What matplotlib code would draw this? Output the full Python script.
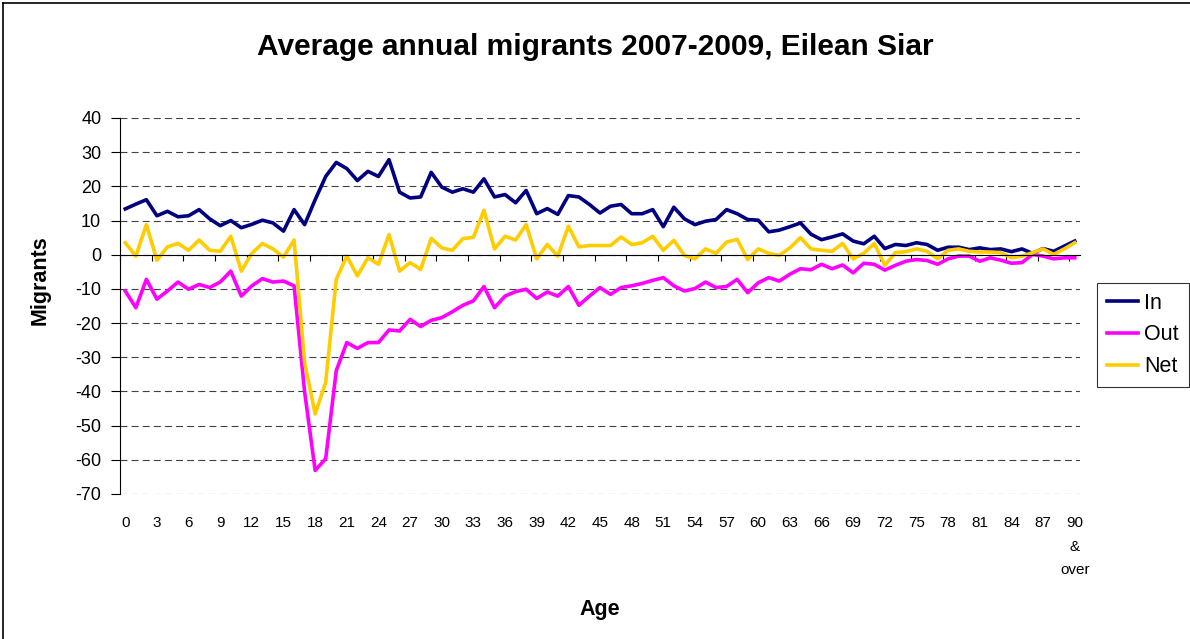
import numpy as np
import matplotlib
matplotlib.use("Agg")
import matplotlib.pyplot as plt
from matplotlib.lines import Line2D

plt.rcParams['font.family'] = ['Liberation Sans', 'DejaVu Sans']
plt.rcParams['lines.scale_dashes'] = False
plt.rcParams['axes.unicode_minus'] = False

ages = list(range(91))
age_labels = [str(a) for a in range(0, 90, 3)] + ["90\n&\nover"]

in_mig = [13.4, 14.8, 16.1, 11.4, 12.7, 11.1, 11.4, 13.2, 10.5, 8.5,
          10.0, 7.9, 8.9, 10.1, 9.3, 6.9, 13.2, 8.8, 16.1, 22.9,
          27.0, 25.2, 21.7, 24.4, 22.9, 27.8, 18.3, 16.6, 16.9, 24.1,
          19.8, 18.3, 19.3, 18.3, 22.2, 16.9, 17.6, 15.2, 18.8, 12.0,
          13.5, 11.8, 17.3, 16.9, 14.7, 12.2, 14.2, 14.7, 12.0, 12.0,
          13.2, 8.2, 13.9, 10.5, 8.8, 9.8, 10.3, 13.2, 12.0, 10.3,
          10.1, 6.7, 7.2, 8.2, 9.3, 6.0, 4.4, 5.2, 6.1, 4.0,
          3.2, 5.4, 1.8, 3.0, 2.7, 3.5, 3.0, 1.3, 2.2, 2.2,
          1.5, 2.0, 1.5, 1.7, 0.9, 1.7, 0.4, 1.8, 1.0, 2.5, 4.0]

out_mig = [-10.6, -15.5, -7.2, -13.0, -10.6, -8.0, -10.1, -8.7, -9.6, -8.0,
           -4.8, -12.1, -9.1, -7.0, -8.0, -7.7, -9.1, -40.1, -63.1, -59.7,
           -33.9, -25.7, -27.4, -25.7, -25.7, -22.0, -22.3, -18.9, -21.0, -19.2,
           -18.4, -16.7, -14.8, -13.5, -9.3, -15.5, -12.1, -10.8, -10.1, -12.8,
           -10.9, -12.1, -9.3, -14.8, -12.1, -9.6, -11.6, -9.6, -9.1, -8.4,
           -7.5, -6.7, -9.1, -10.6, -9.9, -8.0, -9.6, -9.3, -7.2, -11.1,
           -8.2, -6.7, -7.7, -5.7, -4.1, -4.4, -2.8, -4.1, -3.0, -5.3,
           -2.5, -2.8, -4.5, -3.1, -1.9, -1.4, -1.7, -2.8, -1.2, -0.4,
           -0.4, -1.9, -0.9, -1.6, -2.5, -2.3, 0.1, -0.4, -1.2, -0.9, -0.9]

net_mig = [3.5, -0.4, 8.8, -1.6, 2.3, 3.3, 1.3, 4.3, 1.3, 1.0,
           5.4, -4.8, 0.4, 3.3, 1.7, -0.7, 4.3, -31.5, -46.6, -37.3,
           -7.2, -0.4, -6.2, -0.9, -2.8, 5.9, -4.8, -2.3, -4.3, 4.8,
           2.0, 1.3, 4.7, 5.1, 13.0, 1.7, 5.4, 4.3, 8.8, -1.2,
           3.0, -0.4, 8.3, 2.3, 2.7, 2.7, 2.7, 5.2, 3.0, 3.5,
           5.4, 1.3, 4.2, -0.2, -1.2, 1.7, 0.4, 3.7, 4.5, -1.4,
           1.7, 0.4, -0.2, 2.0, 5.0, 1.7, 1.3, 1.0, 3.3, -1.2,
           0.4, 3.3, -3.1, 0.6, 0.9, 1.7, 1.0, -1.2, 1.3, 1.7,
           1.0, 0.8, 0.8, 0.6, -0.9, -0.4, 0.6, 1.7, 0.1, 1.7, 3.5]

fig = plt.figure(figsize=(11.9, 6.39), dpi=100)
ax = fig.add_axes([120 / 1190, 1 - 494 / 639, 960 / 1190, 376 / 639])

ax.plot(ages, in_mig, color="#000080", lw=2.6, label="In")
ax.plot(ages, out_mig, color="#FF00FF", lw=2.6, label="Out")
ax.plot(ages, net_mig, color="#FFCC00", lw=2.6, label="Net")

ax.set_xlim(-0.5, 90.5)
ax.set_ylim(-70, 40)
ax.set_yticks(np.arange(-70, 41, 10))
ax.yaxis.grid(True, linestyle=(0, (5, 3)), color="#404040", lw=0.8)
ax.set_axisbelow(True)
ax.tick_params(axis="y", labelsize=13, length=6.5, width=0.8, pad=7, direction="out")

for s in ["top", "right"]:
    ax.spines[s].set_visible(False)
ax.spines["left"].set_linewidth(0.8)
ax.spines["bottom"].set_position(("data", 0))
ax.spines["bottom"].set_linewidth(0.8)

# ticks between categories on the zero axis, labels at the bottom
ax.set_xticks(np.arange(-0.5, 91, 3))
ax.set_xticklabels([])
ax.tick_params(axis="x", direction="out", length=4.5, width=0.8)

sec = ax.secondary_xaxis("bottom")
sec.set_xticks(ages[::3], age_labels)
sec.tick_params(length=0, pad=16, labelsize=11)
sec.spines["bottom"].set_visible(False)
for t in sec.get_xticklabels():
    t.set_linespacing(1.85)
    t.set_verticalalignment("top")

fig.text(0.5, 1 - 47 / 639, "Average annual migrants 2007-2009, Eilean Siar",
         ha="center", va="center", fontsize=21.5, fontweight="bold")
fig.text(40 / 1190, 1 - 280 / 639, "Migrants", rotation=90, ha="center", va="center",
         fontsize=15.5, fontweight="bold")
fig.text(600 / 1190, 1 - 609 / 639, "Age", ha="center", va="center",
         fontsize=15.5, fontweight="bold")

leg = fig.legend(loc="upper left", bbox_to_anchor=(1097 / 1190, 1 - 283 / 639),
                 fontsize=15.5, frameon=True, fancybox=False, handlelength=1.45,
                 handletextpad=0.3, borderpad=0.45, labelspacing=0.5, borderaxespad=0)
leg.get_frame().set_edgecolor("black")
leg.get_frame().set_linewidth(0.8)

# chart area border
fig.add_artist(Line2D([3 / 1190, 3 / 1190], [0, 1 - 3 / 639], transform=fig.transFigure,
                      color="black", lw=1.2))
fig.add_artist(Line2D([3 / 1190, 1], [1 - 3 / 639, 1 - 3 / 639], transform=fig.transFigure,
                      color="black", lw=1.2))

plt.savefig("out.png", dpi=100)
plt.close()
